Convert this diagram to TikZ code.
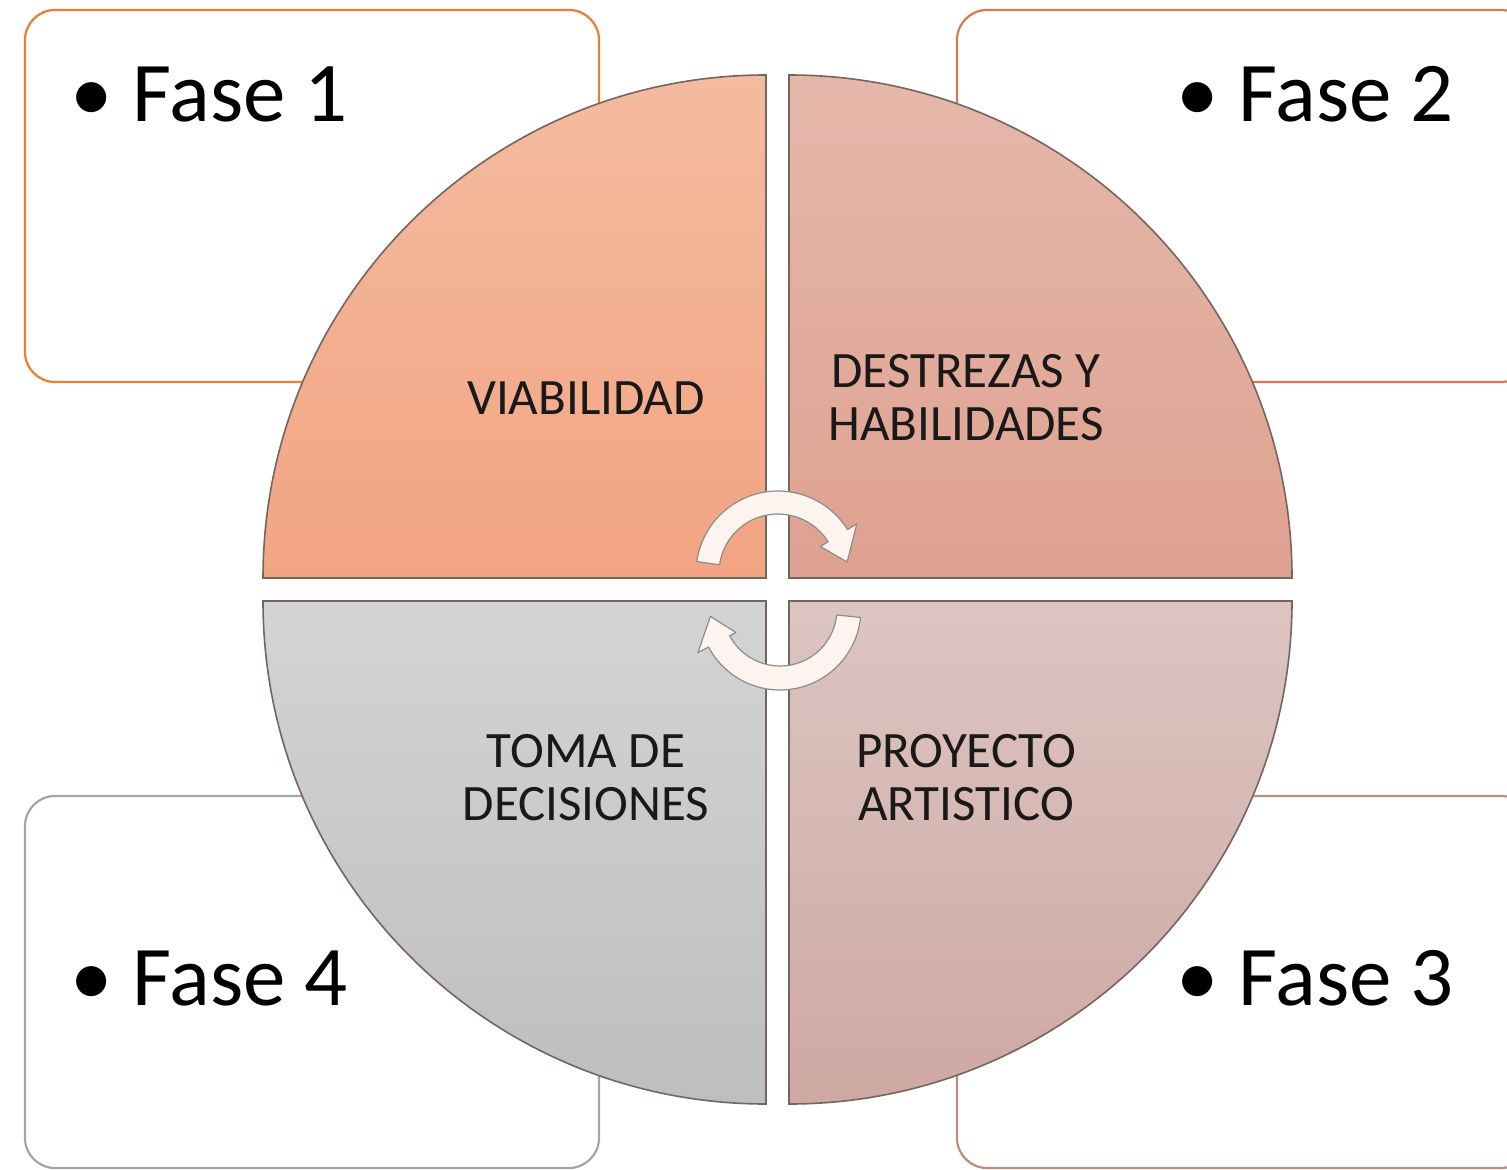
\documentclass[tikz,border=0pt]{standalone}
\usepackage{fontspec}
\setmainfont{Carlito}
\usetikzlibrary{shapes,positioning}
\definecolor{borderone}{RGB}{237,125,49}
\definecolor{bordertwo}{RGB}{212,121,91}
\definecolor{borderthree}{RGB}{192,140,130}
\definecolor{borderfour}{RGB}{165,165,165}
\definecolor{quadline}{RGB}{118,100,94}
\definecolor{arrowfill}{RGB}{253,244,240}
\tikzstyle{fasebox} = [rectangle, draw, fill=white, rounded corners=15pt, minimum width=287pt, minimum height=186pt, line width=1.1pt]
\tikzstyle{fase} = [anchor=base west, inner sep=0pt, font=\fontsize{42.5}{44}\selectfont]
\tikzstyle{quadtext} = [align=center, text=black!90, font=\fontsize{25.5}{26.5}\selectfont]
\tikzstyle{quad} = [draw=quadline, line width=0.8pt]
\tikzstyle{cyclearrow} = [fill=arrowfill, draw=black!45, line width=0.6pt, line join=round]

\begin{document}
\begin{tikzpicture}[x=0.5pt, y=0.5pt]
            \useasboundingbox (0,0) rectangle (1507,1169);
            \clip (0,0) rectangle (1507,1169);

            \node[fasebox, draw=borderone]   (box_one)   at (312,973)  {};
            \node[fasebox, draw=bordertwo]   (box_two)   at (1244,973) {};
            \node[fasebox, draw=borderthree] (box_three) at (1244,187) {};
            \node[fasebox, draw=borderfour]  (box_four)  at (312,187)  {};

            \node[fase] (fase_one)   at (70,1047)   {\textbullet\hspace{10pt}Fase 1};
            \node[fase] (fase_two)   at (1176,1047) {\textbullet\hspace{10pt}Fase 2};
            \node[fase] (fase_three) at (1176,164)  {\textbullet\hspace{10pt}Fase 3};
            \node[fase] (fase_four)  at (70,164)    {\textbullet\hspace{10pt}Fase 4};

            \shade[quad, top color={rgb,255:red,244;green,187;blue,160}, bottom color={rgb,255:red,242;green,164;blue,130}]
                (766,591) -- ++(-503,0) arc (180:90:503) -- cycle;
            \shade[quad, top color={rgb,255:red,229;green,184;blue,171}, bottom color={rgb,255:red,223;green,161;blue,144}]
                (789,591) -- ++(503,0) arc (0:90:503) -- cycle;
            \shade[quad, top color={rgb,255:red,212;green,212;blue,212}, bottom color={rgb,255:red,190;green,190;blue,190}]
                (766,568) -- ++(-503,0) arc (180:270:503) -- cycle;
            \shade[quad, top color={rgb,255:red,220;green,197;blue,194}, bottom color={rgb,255:red,207;green,168;blue,162}]
                (789,568) -- ++(503,0) arc (0:-90:503) -- cycle;

            \node[quadtext] (viabilidad) at (586,771) {VIABILIDAD};
            \node[quadtext] (destrezas)  at (966,771) {DESTREZAS Y\\HABILIDADES};
            \node[quadtext] (toma)       at (586,391) {TOMA DE\\DECISIONES};
            \node[quadtext] (proyecto)   at (966,391) {PROYECTO\\ARTISTICO};

            \coordinate (cycle_top)    at (778,596);
            \coordinate (cycle_bottom) at (780,560);
            \draw[cyclearrow] ([shift={(172:59)}]cycle_top) -- ([shift={(172:82)}]cycle_top)
                arc (172:32:82) -- ([shift={(32:93)}]cycle_top) -- ([shift={(9:70)}]cycle_top)
                -- ([shift={(32:50)}]cycle_top) -- ([shift={(32:59)}]cycle_top) arc (32:172:59) -- cycle;
            \draw[cyclearrow] ([shift={(-6:57)}]cycle_bottom) -- ([shift={(-6:81)}]cycle_bottom)
                arc (-6:-152:81) -- ([shift={(-152:93)}]cycle_bottom) -- ([shift={(-174:70)}]cycle_bottom)
                -- ([shift={(-152:50)}]cycle_bottom) -- ([shift={(-152:57)}]cycle_bottom) arc (-152:-6:57) -- cycle;
        \end{tikzpicture}
\end{document}
